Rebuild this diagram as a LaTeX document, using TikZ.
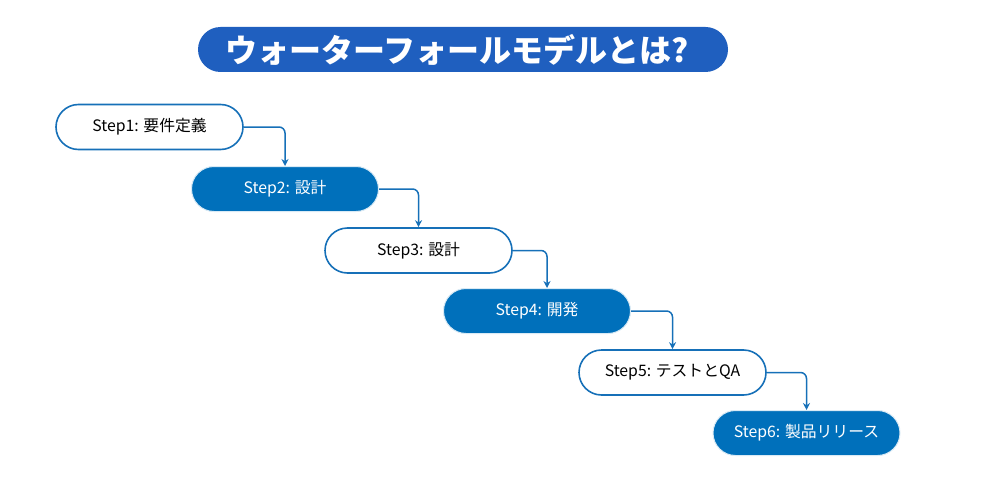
\documentclass[tikz,border=0pt]{standalone}
\usepackage{fontspec}
\setmainfont{Noto Sans CJK JP}
\usetikzlibrary{arrows.meta}
\definecolor{titleblue}{RGB}{31,95,191}
\definecolor{stepblue}{RGB}{0,112,187}
\definecolor{lineblue}{RGB}{22,112,184}
\tikzset{
  stepbase/.style={minimum width=187pt, minimum height=45pt, rounded corners=22.5pt, inner sep=0pt, font=\fontsize{15.8}{18}\selectfont},
  stepwhite/.style={stepbase, draw=lineblue, line width=1.6pt, fill=white, text=black},
  stepfill/.style={stepbase, draw=white!85!stepblue, line width=1pt, fill=stepblue, text=white},
  conn/.style={draw=lineblue, line width=1.5pt, rounded corners=6pt, -{Stealth[length=7pt,width=7pt]}},
}
\begin{document}
\begin{tikzpicture}[x=1pt,y=-1pt]
\useasboundingbox (0,0) rectangle (1000,500);
\node[fill=titleblue, text=white, minimum width=530pt, minimum height=45pt, rounded corners=22.5pt, inner sep=0pt] (title) at (463,49.5) {};
\node[text=white, inner sep=0pt, font=\fontsize{32}{36}\selectfont\bfseries] (titletext) at (457,49.5) {ウォーターフォールモデルとは?};
\node[stepwhite] (s1) at (149.5,127) {Step1: 要件定義};
\node[stepfill] (s2) at (285,189) {Step2: 設計};
\node[stepwhite] (s3) at (418.5,250.5) {Step3: 設計};
\node[stepfill] (s4) at (537,311) {Step4: 開発};
\node[stepwhite] (s5) at (672.5,372.5) {Step5: テストとQA};
\node[stepfill] (s6) at (806.5,433) {Step6: 製品リリース};
\draw[conn] (s1.east) -| (s2.north);
\draw[conn] (s2.east) -| (s3.north);
\draw[conn] (s3.east) -| ([xshift=10pt]s4.north);
\draw[conn] (s4.east) -| (s5.north);
\draw[conn] (s5.east) -| (s6.north);
\end{tikzpicture}
\end{document}
